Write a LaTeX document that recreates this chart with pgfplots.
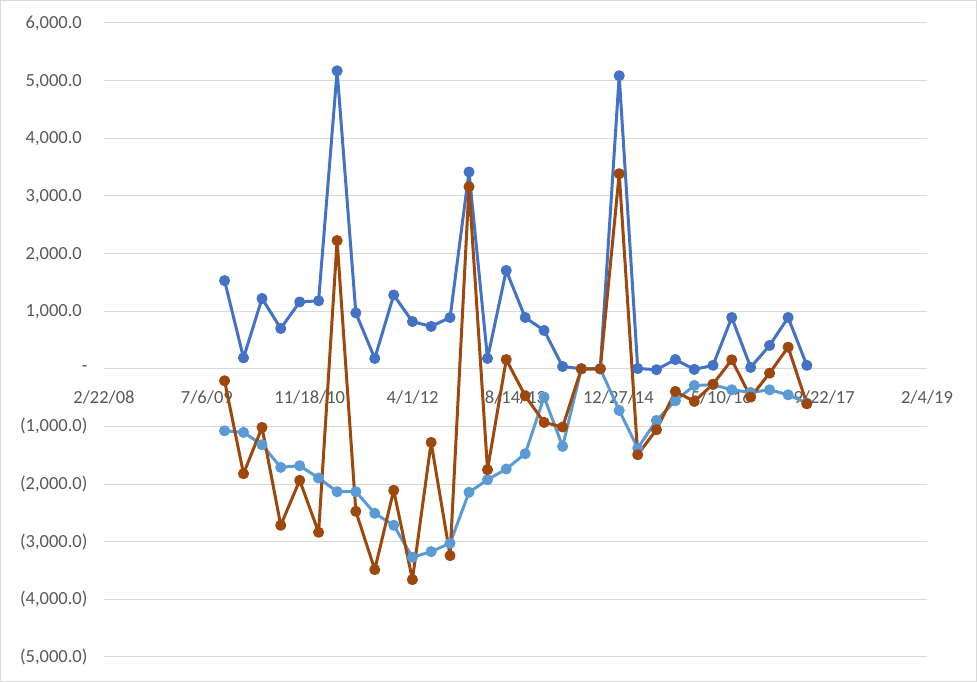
\documentclass[border=0pt]{standalone}
\usepackage{fontspec}
\setmainfont{Carlito}
\usepackage{pgfplots}
\pgfplotsset{compat=1.18}
\definecolor{sA}{HTML}{4472C4}
\definecolor{sB}{HTML}{5B9BD5}
\definecolor{sC}{HTML}{9E480E}
\definecolor{gridc}{HTML}{D9D9D9}
\definecolor{lbl}{HTML}{595959}
\begin{document}
\begin{tikzpicture}[x=1pt,y=1pt]
\draw[gridc, line width=1pt] (0.5,0.5) rectangle (976.5,681.5);
\begin{axis}[at={(104pt,25pt)}, anchor=south west, scale only axis,
  width=823pt, height=634pt,
  xmin=39500, xmax=43500, ymin=-5000, ymax=6000,
  axis x line*=middle, axis y line*=left,
  hide obscured x ticks=false,
  scaled x ticks=false, scaled y ticks=false,
  x axis line style={draw=gridc, line width=1pt},
  y axis line style={draw=none},
  major tick length=0pt,
  xtick={39500,40000,40500,41000,41500,42000,42500,43000,43500},
  xticklabels={2/22/08,7/6/09,11/18/10,4/1/12,8/14/13,12/27/14,5/10/16,9/22/17,2/4/19},
  ytick={-5000,-4000,-3000,-2000,-1000,0,1000,2000,3000,4000,5000,6000},
  yticklabels={{(5,000.0)},{(4,000.0)},{(3,000.0)},{(2,000.0)},{(1,000.0)},{-\hspace{10pt}},{1,000.0\phantom{)}},{2,000.0\phantom{)}},{3,000.0\phantom{)}},{4,000.0\phantom{)}},{5,000.0\phantom{)}},{6,000.0\phantom{)}}},
  ymajorgrids=true,
  major grid style={draw=gridc, line width=1pt},
  tick label style={font=\fontsize{18.5}{20}\selectfont, text=lbl},
  xticklabel style={anchor=north, yshift=-18pt},
  yticklabel style={anchor=east, xshift=-13pt},
  clip=false,
  every axis plot/.append style={line width=3pt, mark=*, mark size=4pt, line join=round},
]
\addplot[color=sA, mark options={fill=sA, draw=sA}] table {
x y
40086 1530
40178 190
40268 1220
40359 700
40451 1160
40543 1180
40633 5170
40724 970
40816 180
40908 1280
40999 820
41090 735
41182 890
41274 3415
41364 180
41455 1705
41547 890
41639 665
41729 40
41820 0
41912 0
42004 5085
42094 5
42185 -15
42277 160
42369 -10
42460 60
42551 890
42643 25
42735 405
42825 890
42916 60
};
\addplot[color=sB, mark options={fill=sB, draw=sB}] table {
x y
40086 -1075
40178 -1103
40268 -1317
40359 -1710
40451 -1681
40543 -1895
40633 -2132
40724 -2132
40816 -2507
40908 -2715
40999 -3270
41090 -3172
41182 -3027
41274 -2143
41364 -1924
41455 -1739
41547 -1473
41639 -491
41729 -1346
41820 0
41912 0
42004 -722
42094 -1375
42185 -896
42277 -555
42369 -289
42460 -277
42551 -364
42643 -410
42735 -364
42825 -451
42916 -595
};
\addplot[color=sC, mark options={fill=sC, draw=sC}] table {
x y
40086 -208
40178 -1820
40268 -1017
40359 -2715
40451 -1935
40543 -2837
40633 2225
40724 -2473
40816 -3484
40908 -2108
40999 -3657
41090 -1277
41182 -3241
41274 3160
41364 -1750
41455 160
41547 -468
41639 -930
41729 -1010
41820 0
41912 0
42004 3385
42094 -1490
42185 -1057
42277 -393
42369 -566
42460 -266
42551 156
42643 -491
42735 -75
42825 376
42916 -607
};
\end{axis}
\end{tikzpicture}
\end{document}
